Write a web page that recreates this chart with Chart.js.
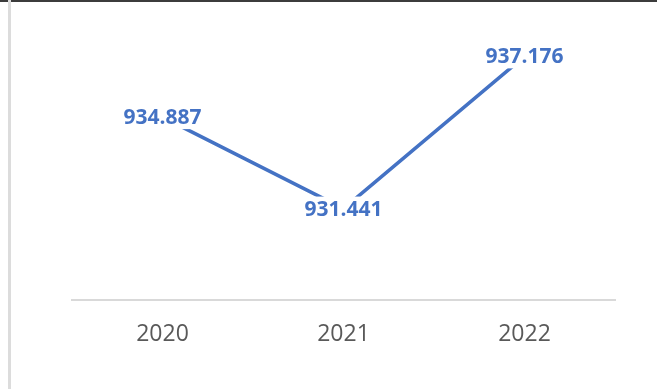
<!DOCTYPE html>
<html>
<head>
<meta charset="utf-8">
<script src="https://cdn.jsdelivr.net/npm/chart.js@4"></script>
<style>
  html, body { margin: 0; padding: 0; background: #fff; }
  #wrap { position: relative; width: 657px; height: 389px; overflow: hidden; }
  #frameTop { position: absolute; left: 0; top: 0; width: 657px; height: 2px; background: #3c3c3c; }
  #frameLeft { position: absolute; left: 8px; top: 0; width: 3px; height: 389px; background: #dcdcdc; }
  canvas { position: absolute; left: 0; top: 0; }
</style>
</head>
<body>
<div id="wrap">
  <canvas id="chart" width="657" height="389"></canvas>
  <div id="frameTop"></div>
  <div id="frameLeft"></div>
</div>
<script>
const years = ['2020', '2021', '2022'];
const values = [934.887, 931.441, 937.176];
const valueLabels = ['934.887', '931.441', '937.176'];

const blue = '#4472C4';

// value labels sit on the points with a white box behind them, as in the original
const pointLabels = {
  id: 'pointLabels',
  afterDatasetsDraw(chart) {
    const ctx = chart.ctx;
    const meta = chart.getDatasetMeta(0);
    ctx.save();
    ctx.font = 'bold 21px "Open Sans"';
    ctx.textAlign = 'center';
    ctx.textBaseline = 'middle';
    meta.data.forEach((pt, i) => {
      const txt = valueLabels[i];
      const w = ctx.measureText(txt).width;
      ctx.fillStyle = '#ffffff';
      ctx.fillRect(pt.x - w / 2 - 3, pt.y - 12, w + 6, 24);
      ctx.fillStyle = blue;
      ctx.fillText(txt, pt.x, pt.y + 1);
    });
    ctx.restore();
  }
};

new Chart(document.getElementById('chart'), {
  type: 'line',
  data: {
    labels: years,
    datasets: [{
      data: values,
      borderColor: blue,
      borderWidth: 3.5,
      pointRadius: 0,
      tension: 0,
      fill: false
    }]
  },
  options: {
    responsive: false,
    animation: false,
    layout: { padding: { left: 72, right: 42, top: 34.5, bottom: 28.5 } },
    plugins: { legend: { display: false }, tooltip: { enabled: false } },
    scales: {
      x: {
        offset: true,
        grid: { display: false },
        border: { display: true, color: '#d9d9d9', width: 2 },
        ticks: { color: '#595959', padding: 12.5, font: { family: 'Open Sans', size: 23 } }
      },
      y: { display: false, min: 928, max: 938 }
    }
  },
  plugins: [pointLabels]
});
</script>
</body>
</html>
